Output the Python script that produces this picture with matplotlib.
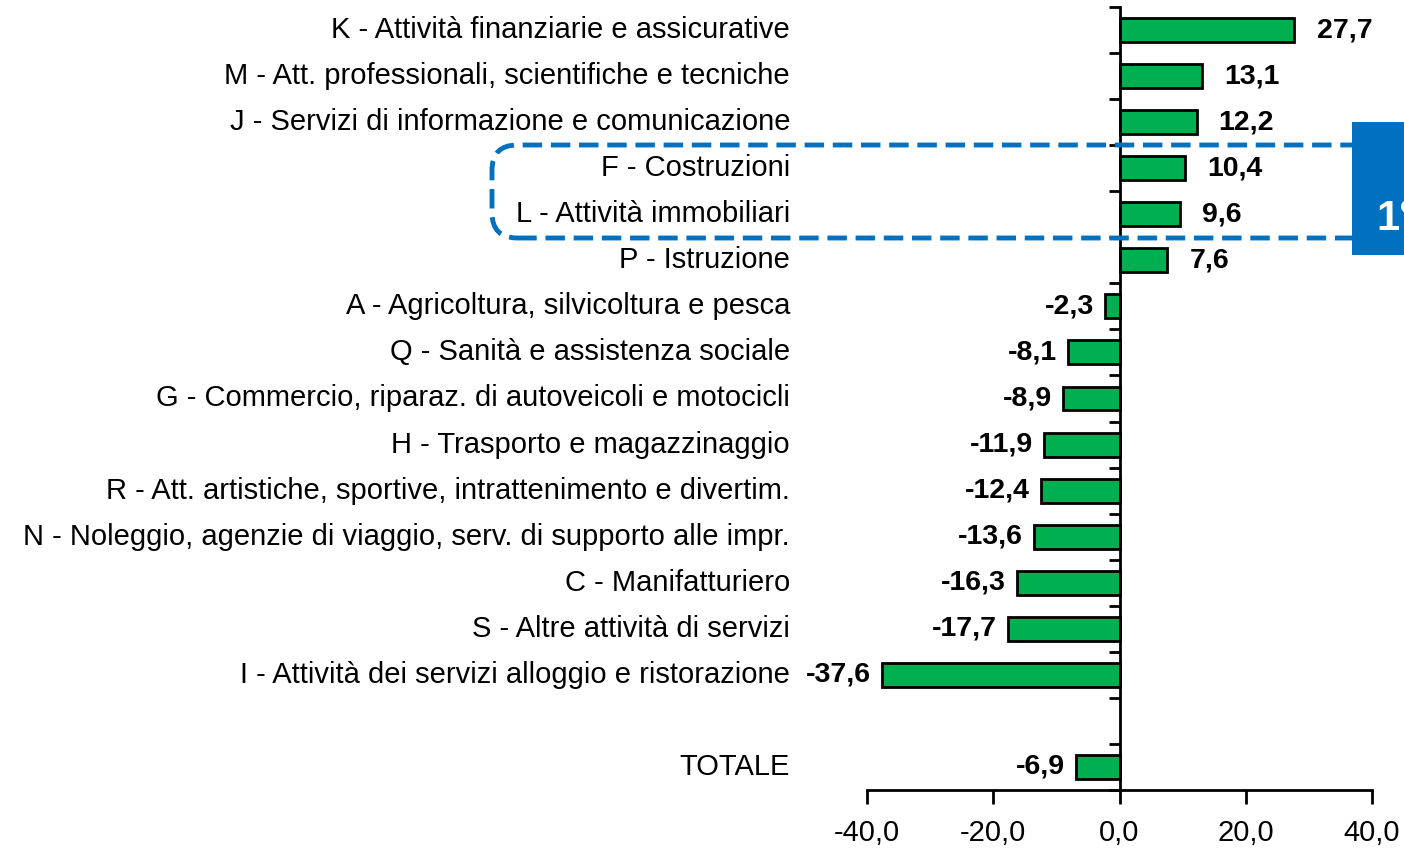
import matplotlib
matplotlib.use("Agg")
import matplotlib.pyplot as plt
from matplotlib.patches import FancyBboxPatch, Rectangle
import matplotlib.transforms as mtransforms

categories = [
    "K - Attività finanziarie e assicurative",
    "M - Att. professionali, scientifiche e tecniche",
    "J - Servizi di informazione e comunicazione",
    "F - Costruzioni",
    "L - Attività immobiliari",
    "P - Istruzione",
    "A - Agricoltura, silvicoltura e pesca",
    "Q - Sanità e assistenza sociale",
    "G - Commercio, riparaz. di autoveicoli e motocicli",
    "H - Trasporto e magazzinaggio",
    "R - Att. artistiche, sportive, intrattenimento e divertim.",
    "N - Noleggio, agenzie di viaggio, serv. di supporto alle impr.",
    "C - Manifatturiero",
    "S - Altre attività di servizi",
    "I - Attività dei servizi alloggio e ristorazione",
    "",
    "TOTALE",
]
values = [27.7, 13.1, 12.2, 10.4, 9.6, 7.6, -2.3, -8.1, -8.9, -11.9, -12.4,
          -13.6, -16.3, -17.7, -37.6, None, -6.9]
xticks = [-40, -20, 0, 20, 40]

FONT = ["Liberation Sans Narrow", "Liberation Sans", "DejaVu Sans"]
plt.rcParams["font.family"] = FONT

W, H = 1404, 849
fig = plt.figure(figsize=(W / 100, H / 100), dpi=100)
ax = fig.add_axes([867 / W, 1 - 790 / H, (1372 - 867) / W, (790 - 7) / H])

green = "#00B050"
blue = "#0070C0"

ypos = list(range(len(categories)))
for y, v in zip(ypos, values):
    if v is None:
        continue
    ax.barh(y, v, height=0.52, color=green, edgecolor="black", linewidth=2, zorder=2)
    lab = f"{v:.1f}".replace(".", ",")
    if v >= 0:
        ax.annotate(lab, (v, y), xytext=(16, 0), textcoords="offset points",
                    ha="left", va="center", fontsize=20.5, fontweight="bold")
    else:
        ax.annotate(lab, (v, y), xytext=(-8, 0), textcoords="offset points",
                    ha="right", va="center", fontsize=20.5, fontweight="bold")

ax.set_xlim(-40, 40)
ax.set_ylim(len(categories) - 0.5, -0.5)

# category labels
trans = mtransforms.blended_transform_factory(ax.transAxes, ax.transData)
for y, c in zip(ypos, categories):
    ax.text((790 - 867) / (1372 - 867), y, c, transform=trans, ha="right",
            va="center", fontsize=21)

for s in ["top", "right"]:
    ax.spines[s].set_visible(False)
ax.spines["left"].set_position(("data", 0))
ax.spines["left"].set_linewidth(2)
ax.spines["bottom"].set_linewidth(2)
ax.set_yticks([i - 0.5 for i in range(len(categories) + 1)])
ax.set_yticklabels([])
ax.tick_params(axis="y", length=8, width=2, direction="out")
ax.set_xticks(xticks)
ax.set_xticklabels([f"{t:.1f}".replace(".", ",") for t in xticks], fontsize=21)
ax.tick_params(axis="x", length=10, width=2, direction="out", pad=11)

# highlight box
box = FancyBboxPatch((492 / W, 1 - 238 / H), (1395 - 492) / W, (238 - 145) / H,
                     boxstyle="round,pad=0,rounding_size=0.018",
                     transform=fig.transFigure, fill=False, edgecolor=blue,
                     linewidth=3.5, linestyle=(0, (4, 1.8)), clip_on=False,
                     mutation_aspect=W / H)
fig.add_artist(box)
rect = Rectangle((1352 / W, 1 - 255 / H), (W - 1352) / W, (255 - 122) / H,
                 transform=fig.transFigure, facecolor=blue, edgecolor="none")
fig.add_artist(rect)
fig.text(1376 / W, 1 - 219 / H, "1°", color="white", fontsize=30,
         fontweight="bold", ha="left", va="center", family=["Liberation Sans", "DejaVu Sans"])

fig.savefig("out.png", dpi=100)
